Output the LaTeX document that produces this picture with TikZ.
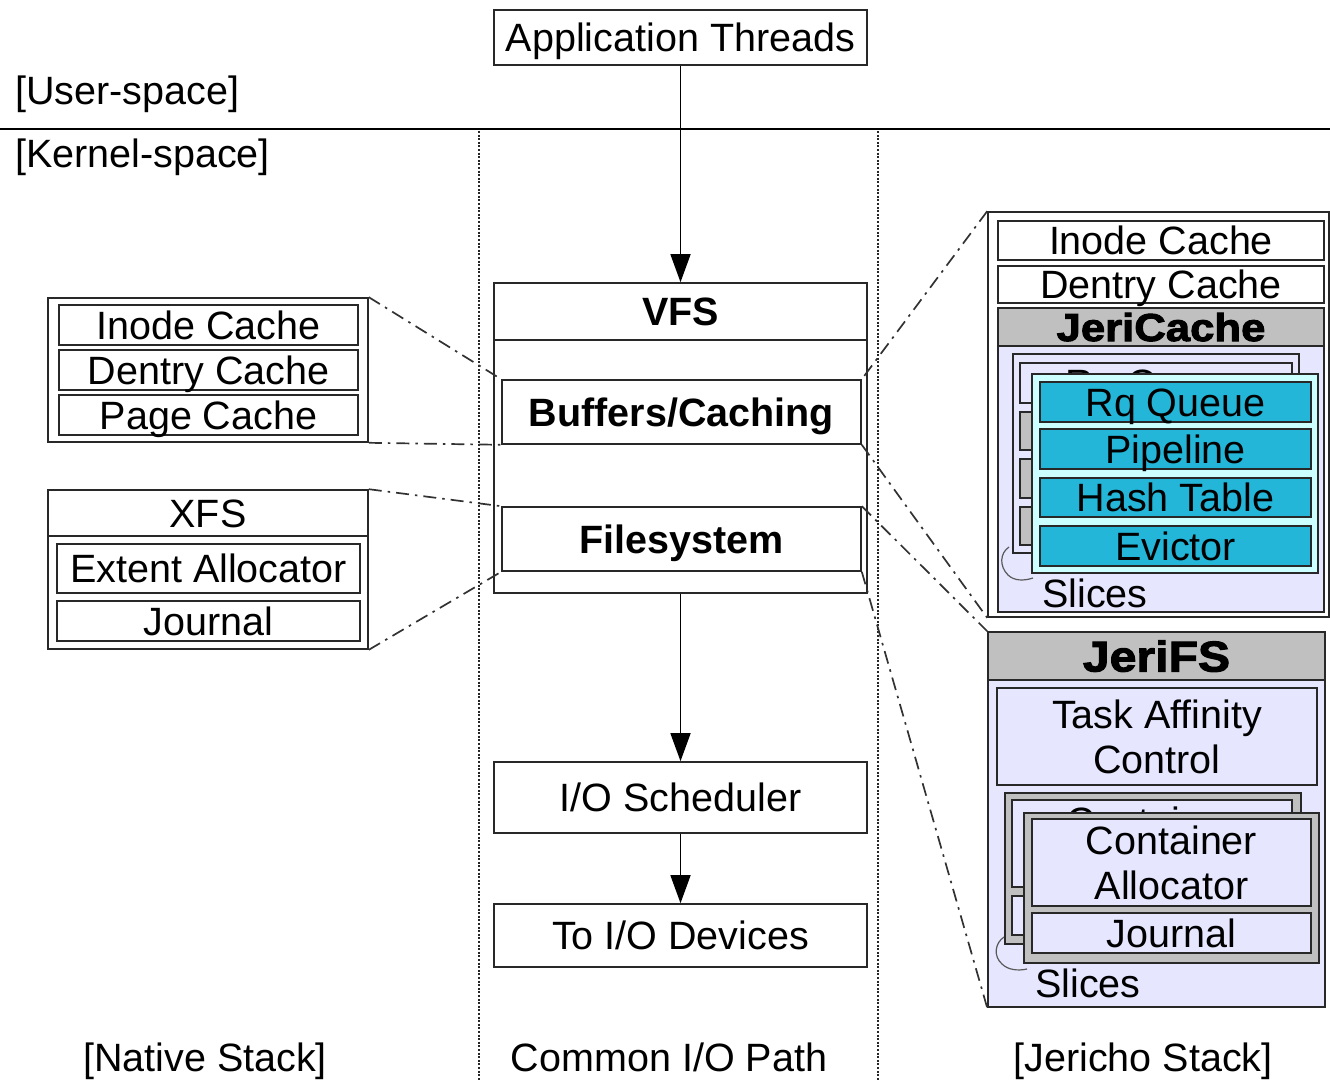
\documentclass[tikz,border=0pt]{standalone}
\usepackage{fontspec}
\setmainfont{Liberation Sans}
\newfontfamily\heavyfont[FakeBold=2.5,FakeStretch=1.12]{Liberation Sans Bold}
\usetikzlibrary{arrows.meta}

\definecolor{lav}{RGB}{230,230,255}
\definecolor{hdr}{RGB}{192,192,192}
\definecolor{cyanbox}{RGB}{35,182,216}
\definecolor{pale}{RGB}{204,255,255}
\definecolor{edge}{RGB}{40,40,40}
\definecolor{guide}{RGB}{50,50,50}

\tikzset{
  sz/.style 2 args={minimum width=#1pt, minimum height=#2pt},
  box/.style={draw=edge, line width=1.6pt, rectangle, inner sep=0pt,
    font=\fontsize{39.5}{45}\selectfont, text height=28pt, text depth=0pt},
  twoline/.style={draw=edge, line width=1.6pt, rectangle, inner sep=0pt,
    font=\fontsize{39.5}{45}\selectfont, align=center},
  boldbox/.style={box, font=\fontsize{39.5}{45}\selectfont\bfseries},
  heavybox/.style={box, font=\fontsize{#1}{#1}\heavyfont, text height=0.72*#1pt},
  lbl/.style={inner sep=0pt, font=\fontsize{39.5}{45}\selectfont, text height=28pt, text depth=0pt},
  flow/.style={draw=black, line width=1.5pt, -{Triangle[length=28pt,width=20pt]}},
  link/.style={draw=guide, line width=1.7pt, dash pattern=on 13pt off 6pt on 2.5pt off 6pt},
  lane/.style={draw=black!85, line width=1.1pt, dash pattern=on 2pt off 1.6pt},
  bracket/.style={draw=black!65, line width=1.2pt},
}

\begin{document}
\begin{tikzpicture}[x=1pt,y=-1pt]
\useasboundingbox (0,0) rectangle (1330,1081);

% user / kernel separation and lane guides
\draw[line width=1.4pt] (0,129) -- (1330,129);
\draw[lane] (479,131) -- (479,1081);
\draw[lane] (878,131) -- (878,1081);

\node[lbl, anchor=west] (user) at (15,90) {[User-space]};
\node[lbl, anchor=west] (kernel) at (15,153) {[Kernel-space]};

% common I/O path
\node[box, sz={373}{55}] (app) at (680.5,37.5) {Application Threads};
\node[box, sz={373}{310}] (vfs) at (680.5,438) {};
\node[boldbox, sz={373}{57}] (vfsh) at (680.5,311.5) {VFS};
\node[boldbox, sz={359}{64}] (buf) at (681.5,412) {Buffers/Caching};
\node[boldbox, sz={359}{64}] (fsys) at (681.5,539) {Filesystem};
\node[box, sz={373}{71}] (ios) at (680.5,797.5) {I/O Scheduler};
\node[box, sz={373}{63}] (dev) at (680.5,935.5) {To I/O Devices};

\draw[flow] (app.south) -- (vfs.north);
\draw[flow] (vfs.south) -- (ios.north);
\draw[flow] (ios.south) -- (dev.north);

% native stack
\node[box, sz={320}{144}] (ncache) at (208,370) {};
\node[box, sz={299}{40}] (ninode) at (208.5,325) {Inode Cache};
\node[box, sz={299}{40}] (ndentry) at (208.5,370) {Dentry Cache};
\node[box, sz={299}{40}] (npage) at (208.5,415) {Page Cache};

\node[box, sz={320}{159}] (xfs) at (208,569.5) {};
\node[box, sz={320}{46}] (xfsh) at (208,513) {XFS};
\node[box, sz={303}{49}] (extent) at (208.5,568.5) {Extent Allocator};
\node[box, sz={303}{40}] (njournal) at (208.5,621) {Journal};

\draw[link] (ncache.north east) -- (buf.north west);
\draw[link] (ncache.south east) -- (buf.south west);
\draw[link] (xfs.north east) -- (fsys.north west);
\draw[link] (xfs.south east) -- (fsys.south west);

% Jericho stack: cache side
\node[box, fill=white, sz={341}{405}] (jcgroup) at (1158.5,414.5) {};
\node[box, sz={326}{39}] (jinode) at (1161,240.5) {Inode Cache};
\node[box, sz={326}{37}] (jdentry) at (1161,284.5) {Dentry Cache};
\node[box, fill=lav, sz={326}{304}] (jcache) at (1161,460) {};
\node[heavybox=39, fill=hdr, sz={326}{38}] (jcacheh) at (1161,327) {JeriCache};

\node[box, fill=lav, sz={286}{199}] (bslice) at (1156,453.5) {};
\node[box, fill=lav, sz={272}{40}] (brq) at (1156,383) {Rq Queue};
\node[box, fill=hdr, sz={272}{38}] (bpipe) at (1156,431) {};
\node[box, fill=hdr, sz={272}{39}] (bhash) at (1156,478.5) {};
\node[box, fill=hdr, sz={272}{38}] (bevict) at (1156,526) {};

\node[box, fill=pale, sz={286}{199}] (fslice) at (1175,473.5) {};
\node[box, fill=cyanbox, sz={271}{40}] (rq) at (1175.5,402) {Rq Queue};
\node[box, fill=cyanbox, sz={271}{40}] (pipe) at (1175.5,449) {Pipeline};
\node[box, fill=cyanbox, sz={271}{39}] (hash) at (1175.5,497.5) {Hash Table};
\node[box, fill=cyanbox, sz={271}{40}] (evict) at (1175.5,546) {Evictor};

\draw[bracket] (1009,547) .. controls (1000,553) and (999,566) .. (1008,575)
  .. controls (1014,581) and (1024,581) .. (1033,578);
\node[lbl, anchor=west] (cslices) at (1042,593) {Slices};

% Jericho stack: filesystem side
\node[box, fill=lav, sz={337}{375}] (jfs) at (1156.5,819.5) {};
\node[heavybox=43, fill=hdr, sz={337}{48}] (jfsh) at (1156.5,656) {JeriFS};
\node[twoline, fill=lav, sz={320}{97}] (affinity) at (1157,736.5) {Task Affinity\\Control};

\node[box, fill=hdr, sz={296}{151}] (bcont) at (1153,868.5) {};
\node[twoline, fill=lav, sz={280}{87}] (balloc) at (1152,843.5) {Container\\Allocator};
\node[box, fill=lav, sz={280}{39}] (bjournal) at (1152,915.5) {};

\node[box, fill=hdr, sz={295}{150}] (fcont) at (1171.5,888) {};
\node[twoline, fill=lav, sz={279}{87}] (alloc) at (1171.5,862.5) {Container\\Allocator};
\node[box, fill=lav, sz={279}{40}] (jjournal) at (1171.5,933) {Journal};

\draw[bracket] (1004,937) .. controls (995,943) and (993,956) .. (1002,964)
  .. controls (1008,970) and (1018,971) .. (1027,969);
\node[lbl, anchor=west] (fslices) at (1035,983) {Slices};

\draw[link] (jcgroup.north west) -- (buf.north east);
\draw[link] (buf.south east) -- (jcgroup.south west);
\draw[link] (fsys.north east) -- (jfs.north west);
\draw[link] (fsys.south east) -- (jfs.south west);

% column captions
\node[lbl] (native) at (205,1057) {[Native Stack]};
\node[lbl] (common) at (669,1057) {Common I/O Path};
\node[lbl] (jericho) at (1143,1057) {[Jericho Stack]};
\end{tikzpicture}
\end{document}
